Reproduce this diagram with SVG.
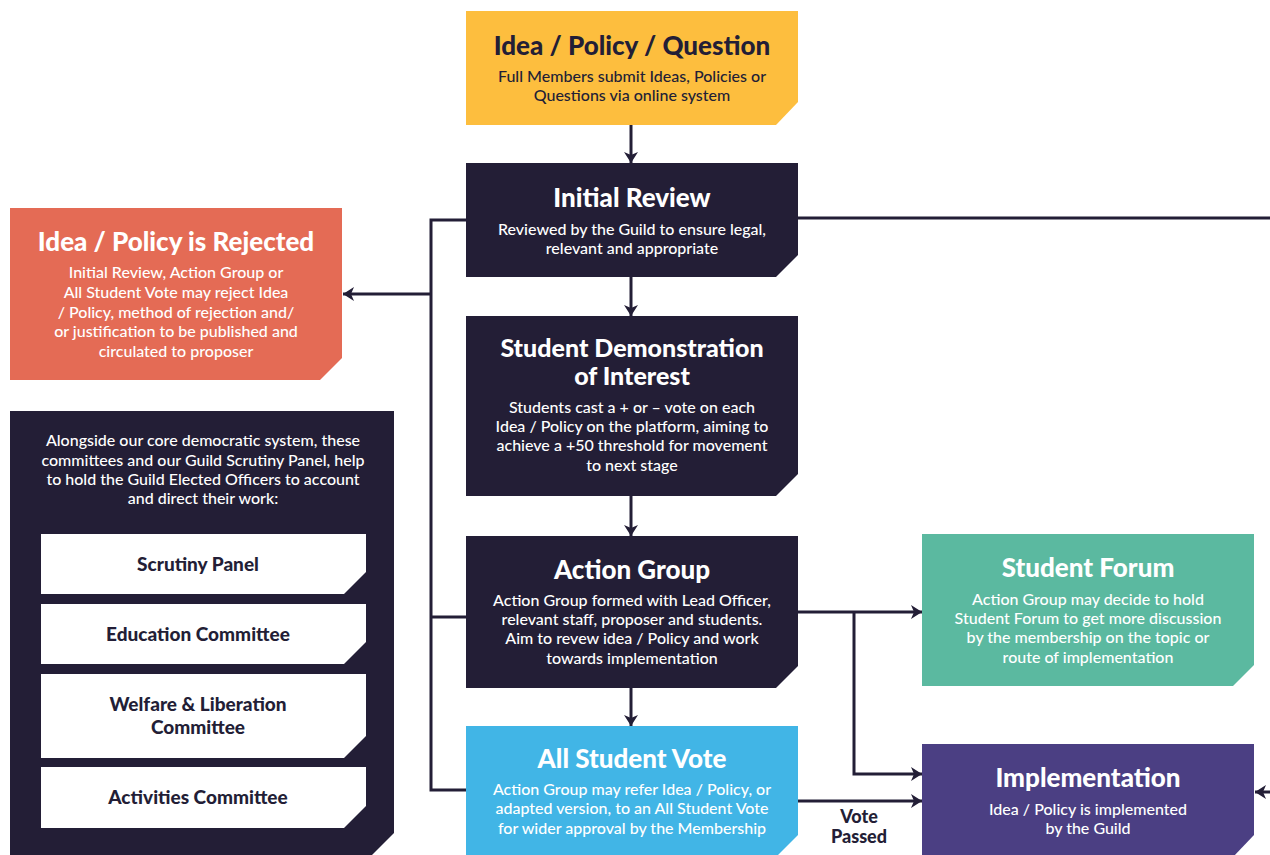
<svg xmlns="http://www.w3.org/2000/svg" width="1270" height="855" viewBox="0 0 1270 855">
<style>
.t{font-family:Lato,"Liberation Sans",sans-serif;font-weight:900;font-size:26px;text-anchor:middle}
.b{font-family:Lato,"Liberation Sans",sans-serif;font-weight:500;font-size:16px;text-anchor:middle}
.c{font-family:Lato,"Liberation Sans",sans-serif;font-weight:900;font-size:19px;text-anchor:middle;fill:#231e36}
.w{fill:#ffffff}
.d{fill:#231e36}
.ln{fill:none;stroke:#231e36;stroke-width:3}
</style>
<defs>
<marker id="ah" markerUnits="userSpaceOnUse" markerWidth="12" markerHeight="14" refX="11" refY="7" orient="auto">
<path d="M0,0 L11,7 L0,14 L3,7 z" fill="#231e36"/>
</marker>
</defs>
<rect width="1270" height="855" fill="#ffffff"/>
<g id="connectors">
<path class="ln" d="M631,125 V163" marker-end="url(#ah)"/>
<path class="ln" d="M631,277 V316" marker-end="url(#ah)"/>
<path class="ln" d="M631,496 V536" marker-end="url(#ah)"/>
<path class="ln" d="M631,687 V726" marker-end="url(#ah)"/>
<path class="ln" d="M466,220 H431 V790 H466"/>
<path class="ln" d="M431,617 H466"/>
<path class="ln" d="M431,294 H343" marker-end="url(#ah)"/>
<path class="ln" d="M798,218 H1270"/>
<path class="ln" d="M1270,792 H1255" marker-end="url(#ah)"/>
<path class="ln" d="M798,612 H922" marker-end="url(#ah)"/>
<path class="ln" d="M854,612 V774 H922" marker-end="url(#ah)"/>
<path class="ln" d="M798,801 H922" marker-end="url(#ah)"/>
<text class="c" x="859" y="823" style="font-size:18px"><tspan x="859">Vote</tspan><tspan x="859" dy="20">Passed</tspan></text>
</g>
<g id="idea">
<path d="M466,11 H798 V102 L776,125 H466 Z" fill="#fdbe3e"/>
<text class="t d" x="632" y="55">Idea / Policy / Question</text>
<text class="b d" x="632" y="82">Full Members submit Ideas, Policies or</text>
<text class="b d" x="632" y="101">Questions via online system</text>
</g>
<g id="initial-review">
<path d="M466,163 H798 V255 L776,277 H466 Z" fill="#231e36"/>
<text class="t w" x="632" y="207">Initial Review</text>
<text class="b w" x="632" y="235">Reviewed by the Guild to ensure legal,</text>
<text class="b w" x="632" y="254">relevant and appropriate</text>
</g>
<g id="demonstration">
<path d="M466,316 H798 V474 L776,496 H466 Z" fill="#231e36"/>
<text class="t w" x="632" y="357" style="font-size:25px"><tspan x="632">Student Demonstration</tspan><tspan x="632" dy="28">of Interest</tspan></text>
<text class="b w" x="632" y="413">Students cast a + or – vote on each</text>
<text class="b w" x="632" y="432">Idea / Policy on the platform, aiming to</text>
<text class="b w" x="632" y="451">achieve a +50 threshold for movement</text>
<text class="b w" x="632" y="471">to next stage</text>
</g>
<g id="action-group">
<path d="M466,536 H798 V666 L776,688 H466 Z" fill="#231e36"/>
<text class="t w" x="632" y="579">Action Group</text>
<text class="b w" x="632" y="606">Action Group formed with Lead Officer,</text>
<text class="b w" x="632" y="625">relevant staff, proposer and students.</text>
<text class="b w" x="632" y="644">Aim to revew idea / Policy and work</text>
<text class="b w" x="632" y="664">towards implementation</text>
</g>
<g id="all-student-vote">
<path d="M466,726 H798 V835 L776,857 H466 Z" fill="#41b5e6"/>
<text class="t w" x="632" y="768">All Student Vote</text>
<text class="b w" x="632" y="795">Action Group may refer Idea / Policy, or</text>
<text class="b w" x="632" y="814">adapted version, to an All Student Vote</text>
<text class="b w" x="632" y="834">for wider approval by the Membership</text>
</g>
<g id="rejected">
<path d="M10,208 H342 V358 L320,380 H10 Z" fill="#e46b55"/>
<text class="t w" x="176" y="251">Idea / Policy is Rejected</text>
<text class="b w" x="176" y="278">Initial Review, Action Group or</text>
<text class="b w" x="176" y="298">All Student Vote may reject Idea</text>
<text class="b w" x="176" y="318">/ Policy, method of rejection and/</text>
<text class="b w" x="176" y="337">or justification to be published and</text>
<text class="b w" x="176" y="357">circulated to proposer</text>
</g>
<g id="committees-panel">
<path d="M10,411 H394 V833 L372,855 H10 Z" fill="#231e36"/>
<text class="b w" x="203" y="446">Alongside our core democratic system, these</text>
<text class="b w" x="203" y="466">committees and our Guild Scrutiny Panel, help</text>
<text class="b w" x="203" y="485">to hold the Guild Elected Officers to account</text>
<text class="b w" x="203" y="504">and direct their work:</text>
</g>
<g id="scrutiny-panel">
<path d="M41,534 H366 V572 L344,594 H41 Z" fill="#ffffff"/>
<text class="c" x="198" y="571">Scrutiny Panel</text>
</g>
<g id="education-committee">
<path d="M41,604 H366 V642 L344,664 H41 Z" fill="#ffffff"/>
<text class="c" x="198" y="641">Education Committee</text>
</g>
<g id="welfare-committee">
<path d="M41,674 H366 V736 L344,758 H41 Z" fill="#ffffff"/>
<text class="c" x="198" y="711"><tspan x="198">Welfare &amp; Liberation</tspan><tspan x="198" dy="23">Committee</tspan></text>
</g>
<g id="activities-committee">
<path d="M41,767 H366 V806 L344,828 H41 Z" fill="#ffffff"/>
<text class="c" x="198" y="804">Activities Committee</text>
</g>
<g id="student-forum">
<path d="M922,534 H1254 V665 L1233,686 H922 Z" fill="#5bb9a0"/>
<text class="t w" x="1088" y="577">Student Forum</text>
<text class="b w" x="1088" y="605">Action Group may decide to hold</text>
<text class="b w" x="1088" y="624">Student Forum to get more discussion</text>
<text class="b w" x="1088" y="643">by the membership on the topic or</text>
<text class="b w" x="1088" y="663">route of implementation</text>
</g>
<g id="implementation">
<path d="M922,744 H1254 V835 L1233,857 H922 Z" fill="#4b3f83"/>
<text class="t w" x="1088" y="787">Implementation</text>
<text class="b w" x="1088" y="815">Idea / Policy is implemented</text>
<text class="b w" x="1088" y="834">by the Guild</text>
</g>
</svg>
